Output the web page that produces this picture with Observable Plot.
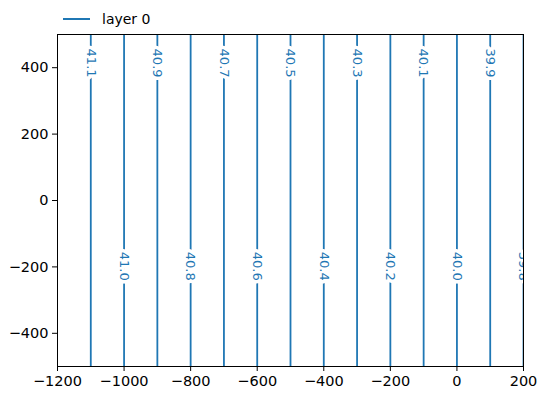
<!DOCTYPE html>
<html>
<head>
<meta charset="utf-8">
<script src="https://cdn.jsdelivr.net/npm/d3@7"></script>
<script src="https://cdn.jsdelivr.net/npm/@observablehq/plot@0.6"></script>
<style>
  body { margin: 0; background: white; font-family: "DejaVu Sans", sans-serif; }
  #wrap { position: relative; width: 545px; height: 400px; }
  #legend { position: absolute; left: 63px; top: 11px; display: flex; align-items: center; font-size: 14px; color: #000; }
  #legend .sw { width: 27px; height: 0; border-top: 2px solid #1f77b4; margin-right: 12px; }
</style>
</head>
<body>
<div id="wrap">
  <div id="chart"></div>
  <div id="legend"><span class="sw"></span><span>layer 0</span></div>
</div>
<script>
// Contour levels and their x positions
const levels = [41.1, 41.0, 40.9, 40.8, 40.7, 40.6, 40.5, 40.4, 40.3, 40.2, 40.1, 40.0, 39.9, 39.8];
const xPositions = [-1100, -1000, -900, -800, -700, -600, -500, -400, -300, -200, -100, 0, 100, 200];
// Label y positions (alternate top / bottom as in reference)
const labelY = [414, -198, 414, -198, 414, -198, 414, -198, 414, -198, 414, -198, 414, -198];
const xTicks = [-1200, -1000, -800, -600, -400, -200, 0, 200];
const yTicks = [-400, -200, 0, 200, 400];
const xDomain = [-1200, 200];
const yDomain = [-500, 500];

const data = levels.map((v, i) => ({level: v, x: xPositions[i], ly: labelY[i]}));
const color = "#1f77b4";
const fmt = d3.format("d");

const chart = Plot.plot({
  width: 545,
  height: 400,
  marginLeft: 57,
  marginRight: 22,
  marginTop: 34,
  marginBottom: 34,
  style: {fontFamily: "DejaVu Sans, sans-serif", fontSize: "13px", background: "white", color: "black"},
  x: {domain: xDomain},
  y: {domain: yDomain},
  marks: [
    Plot.ruleX(data, {x: "x", y1: yDomain[0], y2: yDomain[1], stroke: color, strokeWidth: 1.8, clip: "frame"}),
    Plot.text(data, {
      x: "x", y: "ly", text: d => d.level.toFixed(1), rotate: 90,
      fill: color, stroke: "white", strokeWidth: 7, paintOrder: "stroke",
      fontSize: 13, clip: "frame"
    }),
    Plot.frame({stroke: "black", strokeWidth: 1}),
    Plot.axisX({ticks: xTicks, tickFormat: fmt, tickSize: 5, tickPadding: 4, fontSize: 14.5, label: null}),
    Plot.axisY({ticks: yTicks, tickFormat: fmt, tickSize: 5, tickPadding: 4, fontSize: 14.5, label: null})
  ]
});
document.getElementById("chart").appendChild(chart);
</script>
</body>
</html>
